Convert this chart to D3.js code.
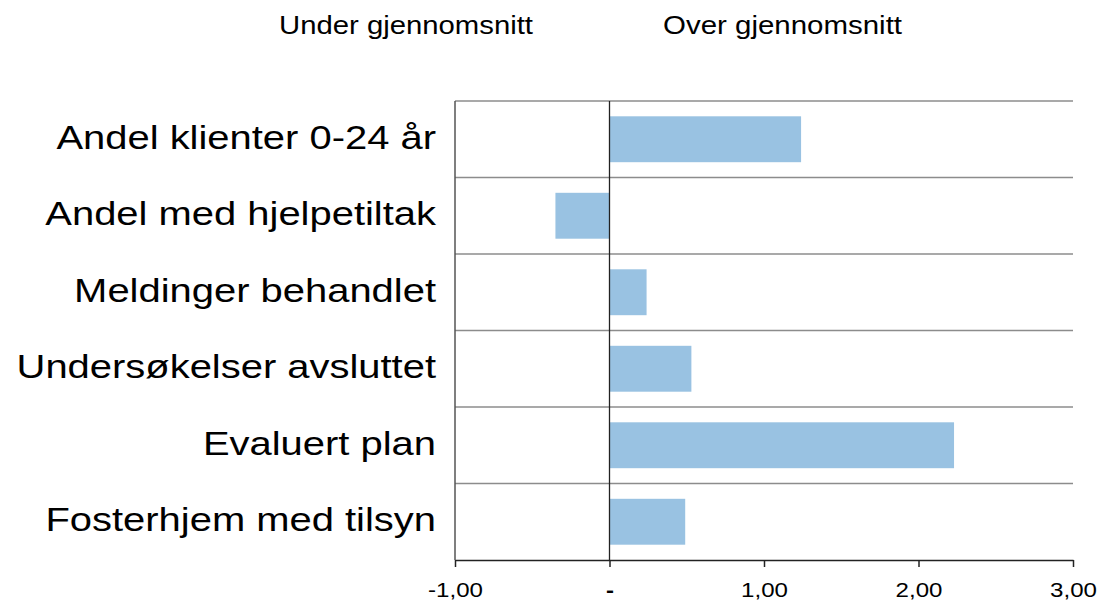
<!DOCTYPE html>
<html>
<head>
<meta charset="utf-8">
<script src="https://cdn.jsdelivr.net/npm/d3@7"></script>
<style>
	body { margin: 0; background: #fff; }
	text { font-family: "Liberation Sans", Arial, sans-serif; fill: #000; }
</style>
</head>
<body>
<svg id="chart" width="1104" height="601"></svg>
<script>
const categories = ["Andel klienter 0-24 år", "Andel med hjelpetiltak", "Meldinger behandlet", "Undersøkelser avsluttet", "Evaluert plan", "Fosterhjem med tilsyn"];
const values = [1.24, -0.35, 0.24, 0.53, 2.23, 0.49];
const tickValues = [-1, 0, 1, 2, 3];
const tickLabels = ["-1,00", "-", "1,00", "2,00", "3,00"];
const headers = ["Under gjennomsnitt", "Over gjennomsnitt"];

const dims = { left: 455, right: 1073, top: 101, bottom: 560 };
// text in the original is drawn a bit wider than normal
const stretch = 1.175;

const svg = d3.select("#chart");

const x = d3.scaleLinear()
	.domain([-1, 3])
	.range([dims.left, dims.right]);

const y = d3.scaleBand()
	.domain(categories)
	.range([dims.top, dims.bottom])
	.paddingInner(0.4)
	.paddingOuter(0.2);

// horizontal separators between categories
let step = (dims.bottom - dims.top) / categories.length;
svg.append("g")
	.selectAll("line")
	.data(d3.range(categories.length))
	.enter()
	.append("line")
	.attr("x1", dims.left)
	.attr("x2", dims.right)
	.attr("y1", d => dims.top + d * step)
	.attr("y2", d => dims.top + d * step)
	.attr("stroke", "#8c8c8c")
	.attr("stroke-width", 1.3);

// bars
svg.append("g")
	.selectAll("rect")
	.data(values)
	.enter()
	.append("rect")
	.attr("x", d => x(Math.min(0, d)))
	.attr("width", d => Math.abs(x(d) - x(0)))
	.attr("y", (d, i) => y(categories[i]))
	.attr("height", y.bandwidth())
	.attr("fill", "#99c2e2");

// left axis line
svg.append("line")
	.attr("x1", dims.left).attr("x2", dims.left)
	.attr("y1", dims.top).attr("y2", dims.bottom)
	.attr("stroke", "#555").attr("stroke-width", 1.5);

// zero line
svg.append("line")
	.attr("x1", x(0)).attr("x2", x(0))
	.attr("y1", dims.top).attr("y2", dims.bottom)
	.attr("stroke", "#222").attr("stroke-width", 1.3);

// bottom axis
let xAxis = d3.axisBottom(x)
	.tickValues(tickValues)
	.tickSize(7)
	.tickSizeOuter(0)
	.tickFormat((d, i) => tickLabels[i]);

let axisG = svg.append("g")
	.attr("transform", "translate(0," + dims.bottom + ")")
	.call(xAxis);
axisG.select(".domain").attr("stroke", "#222").attr("stroke-width", 1.5);
axisG.selectAll(".tick line").attr("stroke", "#222").attr("stroke-width", 1.5);
axisG.selectAll(".tick text")
	.attr("font-size", 20.5)
	.attr("font-family", "Liberation Sans, Arial, sans-serif")
	.attr("fill", "#000")
	.attr("y", 0)
	.attr("dy", null)
	.attr("transform", "translate(0,37) scale(" + stretch + ",1)");
axisG.selectAll(".tick text")
	.filter((d, i) => tickLabels[i] == "-")
	.attr("font-weight", "bold");

// category labels
svg.append("g")
	.selectAll("text")
	.data(categories)
	.enter()
	.append("text")
	.attr("transform", d => "translate(436," + (y(d) + y.bandwidth() / 2 + 9.5) + ") scale(" + stretch + ",1)")
	.attr("text-anchor", "end")
	.attr("font-size", 34)
	.text(d => d);

// headers above plot
svg.append("g")
	.selectAll("text")
	.data(headers)
	.enter()
	.append("text")
	.attr("x", (d, i) => i == 0 ? 279 : 663)
	.attr("y", 34)
	.attr("font-size", 26)
	.attr("textLength", (d, i) => i == 0 ? 254 : 239)
	.attr("lengthAdjust", "spacingAndGlyphs")
	.text(d => d);
</script>
</body>
</html>
